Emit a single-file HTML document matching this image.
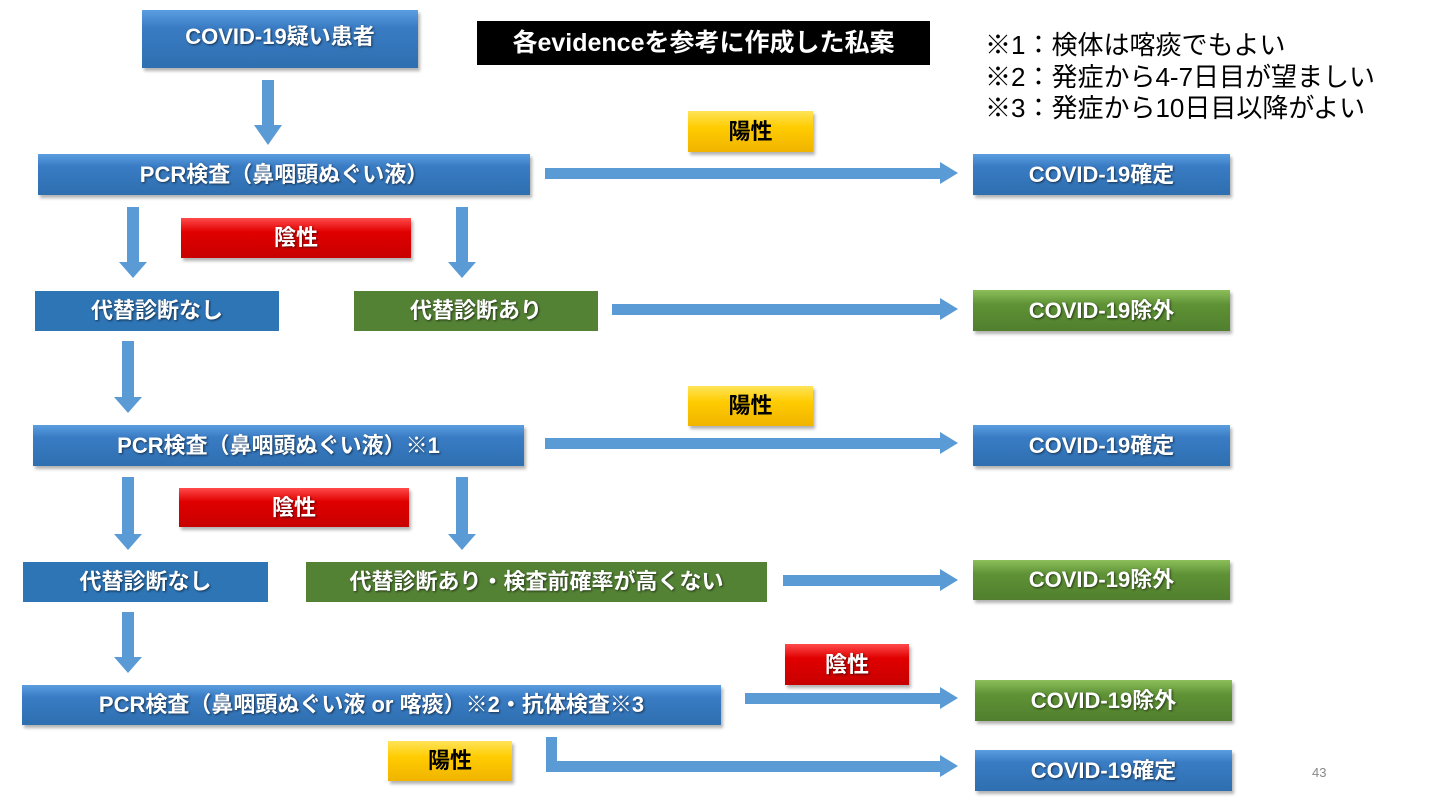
<!DOCTYPE html>
<html><head><meta charset="utf-8"><style>
body{margin:0;width:1440px;height:810px;background:#fff;position:relative;overflow:hidden;font-family:"Liberation Sans","Noto Sans CJK JP",sans-serif}
.b{position:absolute;display:flex;align-items:center;justify-content:center;color:#fff;font-weight:bold;font-size:22px;padding-bottom:4px;text-shadow:1px 1px 2px rgba(0,0,0,.6);box-sizing:border-box;white-space:nowrap}
.blue{background:linear-gradient(#5a9ee0 0%,#3a7cc4 30%,#2e6fb0 100%);box-shadow:2px 3px 3px rgba(0,0,0,.3)}
.green{background:linear-gradient(#8cbf5a 0%,#5f9236 35%,#517f2e 100%);box-shadow:2px 3px 3px rgba(0,0,0,.3)}
.red{background:linear-gradient(#ff4a4a 0%,#e00000 35%,#c80000 100%);box-shadow:2px 3px 3px rgba(0,0,0,.3)}
.yel{background:linear-gradient(#ffe45a 0%,#ffcc00 40%,#f0b400 100%);color:#000;text-shadow:none;box-shadow:2px 3px 3px rgba(0,0,0,.3)}
.fb{background:#2e75b6;box-shadow:none}
.fg{background:#548235;box-shadow:none}
</style></head><body>
<svg width="1440" height="810" style="position:absolute;left:0;top:0">
<g fill="#5b9bd5">
<rect x="262" y="80" width="12" height="45"/><polygon points="254,125 282,125 268,145"/>
<rect x="545" y="168" width="395" height="11"/><polygon points="940,162 958,173 940,184"/>
<rect x="127" y="207" width="12" height="55"/><polygon points="119,262 147,262 133,278"/>
<rect x="456" y="207" width="12" height="55"/><polygon points="448,262 476,262 462,278"/>
<rect x="612" y="304" width="328" height="11"/><polygon points="940,298 958,309 940,320"/>
<rect x="122" y="341" width="12" height="56"/><polygon points="114,397 142,397 128,413"/>
<rect x="545" y="438" width="395" height="11"/><polygon points="940,432 958,443 940,454"/>
<rect x="122" y="477" width="12" height="57"/><polygon points="114,534 142,534 128,550"/>
<rect x="456" y="477" width="12" height="57"/><polygon points="448,534 476,534 462,550"/>
<rect x="783" y="575" width="157" height="11"/><polygon points="940,569 958,580 940,591"/>
<rect x="122" y="612" width="12" height="45"/><polygon points="114,657 142,657 128,673"/>
<rect x="745" y="693" width="195" height="11"/><polygon points="940,687 958,698 940,709"/>
<rect x="546" y="737" width="11" height="33"/><rect x="546" y="761" width="394" height="11"/><polygon points="940,755 958,766 940,777"/>
</g></svg>
<div class="b blue" style="left:142px;top:10px;width:276px;height:58px;padding-bottom:8px">COVID-19疑い患者</div>
<div class="b" style="left:477px;top:21px;width:453px;height:44px;background:#000;font-size:25px">各evidenceを参考に作成した私案</div>
<div style="position:absolute;left:985px;top:30px;font-size:26px;line-height:31.5px;color:#000">※1：検体は喀痰でもよい<br>※2：発症から4-7日目が望ましい<br>※3：発症から10日目以降がよい</div>
<div class="b blue" style="left:38px;top:154px;width:492px;height:41px">PCR検査（鼻咽頭ぬぐい液）</div>
<div class="b yel" style="left:688px;top:111px;width:125px;height:41px">陽性</div>
<div class="b blue" style="left:973px;top:154px;width:257px;height:41px">COVID-19確定</div>
<div class="b red" style="left:181px;top:218px;width:230px;height:40px">陰性</div>
<div class="b fb" style="left:35px;top:291px;width:244px;height:40px">代替診断なし</div>
<div class="b fg" style="left:354px;top:291px;width:244px;height:40px">代替診断あり</div>
<div class="b green" style="left:973px;top:290px;width:257px;height:41px">COVID-19除外</div>
<div class="b yel" style="left:688px;top:386px;width:125px;height:40px">陽性</div>
<div class="b blue" style="left:33px;top:425px;width:491px;height:41px">PCR検査（鼻咽頭ぬぐい液）※1</div>
<div class="b blue" style="left:973px;top:425px;width:257px;height:41px">COVID-19確定</div>
<div class="b red" style="left:179px;top:488px;width:230px;height:39px">陰性</div>
<div class="b fb" style="left:23px;top:562px;width:245px;height:40px">代替診断なし</div>
<div class="b fg" style="left:306px;top:562px;width:461px;height:40px">代替診断あり・検査前確率が高くない</div>
<div class="b green" style="left:973px;top:560px;width:257px;height:40px">COVID-19除外</div>
<div class="b blue" style="left:22px;top:685px;width:699px;height:40px">PCR検査（鼻咽頭ぬぐい液 or 喀痰）※2・抗体検査※3</div>
<div class="b red" style="left:785px;top:644px;width:124px;height:41px">陰性</div>
<div class="b green" style="left:975px;top:680px;width:257px;height:41px">COVID-19除外</div>
<div class="b yel" style="left:388px;top:741px;width:124px;height:40px">陽性</div>
<div class="b blue" style="left:975px;top:750px;width:257px;height:41px">COVID-19確定</div>
<div style="position:absolute;left:1312px;top:765px;font-size:13px;color:#888">43</div>
</body></html>
